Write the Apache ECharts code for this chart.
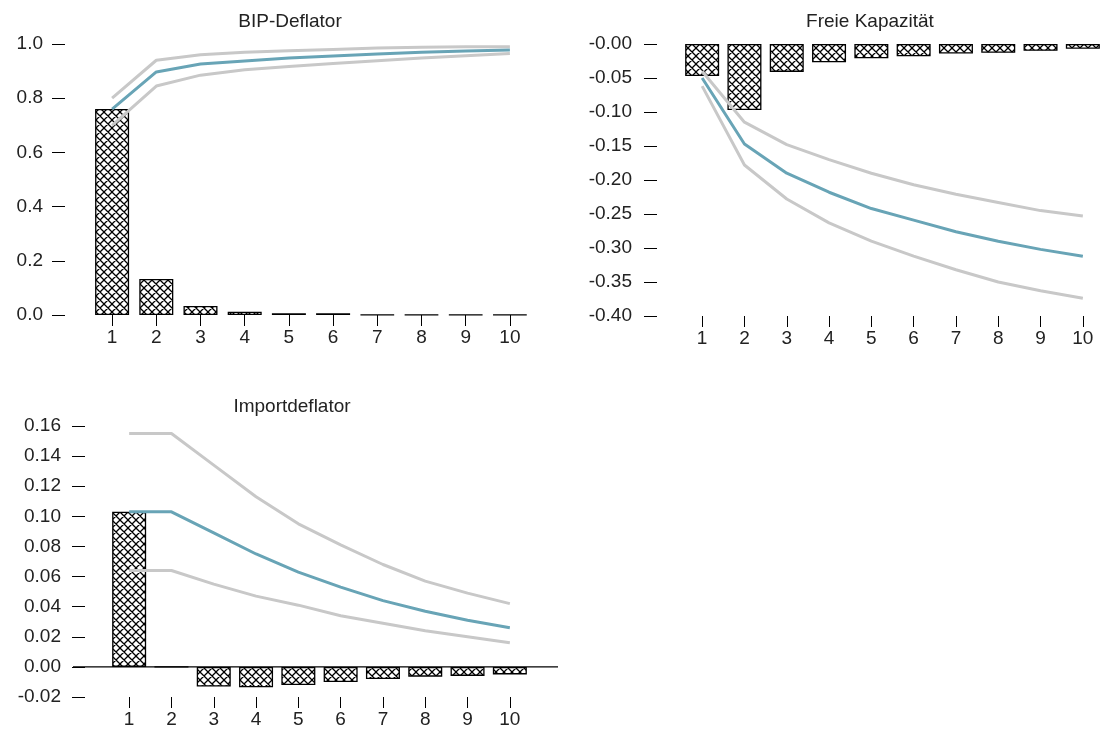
<!DOCTYPE html>
<html><head><meta charset="utf-8">
<script src="https://cdn.jsdelivr.net/npm/echarts@6/dist/echarts.min.js"></script>
<style>html,body{margin:0;padding:0;background:#fff}#c{width:1105px;height:731px}</style>
</head><body><div id="c"></div>
<script>
const categories = ['1','2','3','4','5','6','7','8','9','10'];

const bipBars  = [0.76, 0.133, 0.033, 0.012, 0.006, 0.006, 0.001, 0.001, 0.001, 0.001];
const bipMid   = [0.76, 0.897, 0.926, 0.937, 0.948, 0.956, 0.963, 0.970, 0.974, 0.978];
const bipUpper = [0.80, 0.94, 0.96, 0.97, 0.975, 0.98, 0.985, 0.988, 0.99, 0.99];
const bipLower = [0.70, 0.845, 0.885, 0.905, 0.917, 0.928, 0.938, 0.948, 0.957, 0.965];

const fkBars  = [-0.047, -0.097, -0.041, -0.027, -0.021, -0.018, -0.014, -0.013, -0.010, -0.007];
const fkMid   = [-0.05, -0.147, -0.19, -0.218, -0.242, -0.259, -0.276, -0.29, -0.302, -0.312];
const fkUpper = [-0.04, -0.115, -0.148, -0.17, -0.19, -0.207, -0.221, -0.233, -0.245, -0.253];
const fkLower = [-0.062, -0.178, -0.228, -0.263, -0.29, -0.312, -0.332, -0.35, -0.363, -0.374];

const idBars  = [0.103, 0, -0.013, -0.0135, -0.012, -0.010, -0.008, -0.0065, -0.006, -0.005];
const idMid   = [0.103, 0.103, 0.089, 0.075, 0.063, 0.053, 0.044, 0.037, 0.031, 0.026];
const idUpper = [0.155, 0.155, 0.134, 0.113, 0.095, 0.081, 0.068, 0.057, 0.049, 0.042];
const idLower = [0.064, 0.064, 0.055, 0.047, 0.041, 0.034, 0.029, 0.024, 0.020, 0.016];

const titles = ['BIP-Deflator', 'Freie Kapazität', 'Importdeflator'];

function hatch() {
  const s = 8;
  const c = document.createElement('canvas');
  c.width = s; c.height = s;
  const g = c.getContext('2d');
  g.fillStyle = '#fff'; g.fillRect(0, 0, s, s);
  g.strokeStyle = '#000'; g.lineWidth = 1.3;
  g.beginPath();
  for (let k = -1; k <= 1; k++) {
    g.moveTo(-2 + k * s, -2); g.lineTo(s + 2 + k * s, s + 2);
    g.moveTo(s + 2 + k * s, -2); g.lineTo(-2 + k * s, s + 2);
  }
  g.stroke();
  return c;
}
const pat = { image: hatch(), repeat: 'repeat' };

const FONT = 'Liberation Sans, Arial, sans-serif';
const TXT = '#222';
const BLUE = '#68a4b6';
const GRAY = '#c8c8c8';

function xAxis(gi) {
  return {
    type: 'category', gridIndex: gi, data: categories, boundaryGap: true,
    position: 'bottom',
    axisLine: { show: false, onZero: false },
    axisTick: { show: true, alignWithLabel: true, length: 11, lineStyle: { color: '#000', width: 1 } },
    axisLabel: { margin: 13, fontSize: 19, color: TXT, fontFamily: FONT },
    splitLine: { show: false }
  };
}
function yAxis(gi, min, max, interval, fmt, offset, margin) {
  return {
    type: 'value', gridIndex: gi, min, max, interval, offset,
    axisLine: { show: false },
    axisTick: { show: true, length: 13, lineStyle: { color: '#000', width: 1 } },
    axisLabel: { margin, fontSize: 19, color: TXT, fontFamily: FONT, formatter: fmt },
    splitLine: { show: false }
  };
}
function bars(idx, data) {
  return { type: 'bar', xAxisIndex: idx, yAxisIndex: idx, data, barWidth: 34,
    itemStyle: { color: pat, borderColor: '#000', borderWidth: 1.3 }, z: 2, silent: true };
}
function line(idx, data, color) {
  return { type: 'line', xAxisIndex: idx, yAxisIndex: idx, data, symbol: 'none',
    lineStyle: { color, width: 3 }, z: color === BLUE ? 5 : 4, silent: true };
}

const option = {
  animation: false,
  backgroundColor: '#fff',
  title: [
    { text: titles[0], left: 285, top: 7, textAlign: 'center', textStyle: { fontSize: 19, fontWeight: 'normal', color: TXT, fontFamily: FONT } },
    { text: titles[1], left: 865, top: 7, textAlign: 'center', textStyle: { fontSize: 19, fontWeight: 'normal', color: TXT, fontFamily: FONT } },
    { text: titles[2], left: 287, top: 392, textAlign: 'center', textStyle: { fontSize: 19, fontWeight: 'normal', color: TXT, fontFamily: FONT } }
  ],
  grid: [
    { left: 90, top: 44, width: 442, height: 271 },
    { left: 681, top: 44, width: 423, height: 272 },
    { left: 108, top: 426, width: 423, height: 271 },
    { left: 73, top: 426, width: 485, height: 271 }
  ],
  xAxis: [
    xAxis(0), xAxis(1), xAxis(2),
    { type: 'value', gridIndex: 3, min: 0, max: 1, show: false }
  ],
  yAxis: [
    yAxis(0, 0, 1, 0.2, v => v.toFixed(1), 25, 22),
    yAxis(1, -0.4, 0, 0.05, v => '-' + Math.abs(v).toFixed(2), 24, 25),
    yAxis(2, -0.02, 0.16, 0.02, v => (Math.abs(v) < 1e-9 ? 0 : v).toFixed(2), 23, 24),
    { type: 'value', gridIndex: 3, min: -0.02, max: 0.16, show: false }
  ],
  series: [
    { type: 'line', xAxisIndex: 3, yAxisIndex: 3, data: [[0, 0], [1, 0]], symbol: 'none',
      lineStyle: { color: '#000', width: 1.2 }, z: 1, silent: true },
    bars(0, bipBars), line(0, bipUpper, GRAY), line(0, bipLower, GRAY), line(0, bipMid, BLUE),
    bars(1, fkBars), line(1, fkUpper, GRAY), line(1, fkLower, GRAY), line(1, fkMid, BLUE),
    bars(2, idBars), line(2, idUpper, GRAY), line(2, idLower, GRAY), line(2, idMid, BLUE)
  ]
};
const chart = echarts.init(document.getElementById('c'), null, { renderer: 'canvas' });
chart.setOption(option);
</script></body></html>
